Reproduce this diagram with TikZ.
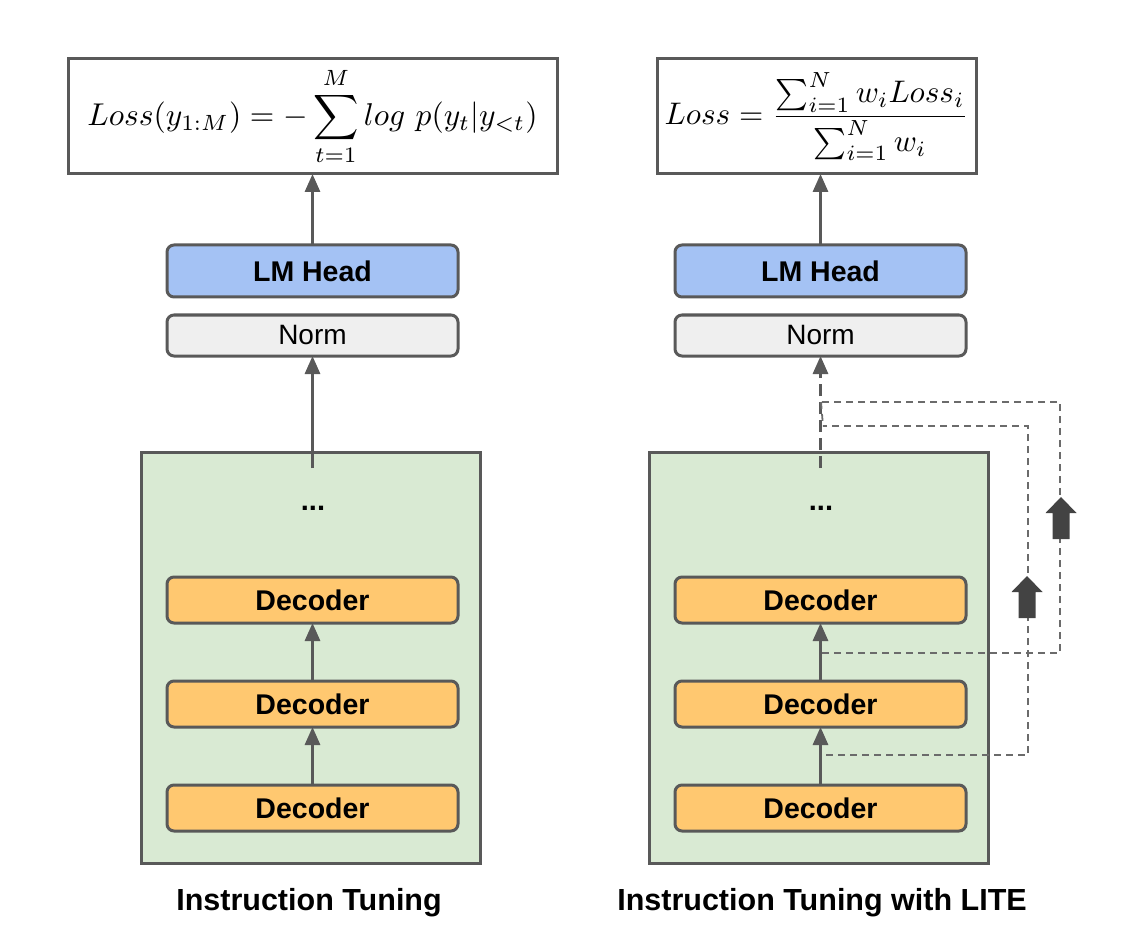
\documentclass[tikz,border=0pt]{standalone}
\usepackage{amsmath}
\usepackage{graphicx}
\usepackage{fontspec}
\newfontfamily\arialf{Liberation Sans}
\usetikzlibrary{arrows.meta}
\definecolor{edge}{HTML}{595959}
\definecolor{headblue}{HTML}{A4C2F4}
\definecolor{normgray}{HTML}{EFEFEF}
\definecolor{decorange}{HTML}{FFC870}
\definecolor{stackgreen}{HTML}{D9EAD3}
\definecolor{blockdark}{HTML}{434343}
\definecolor{dashgray}{HTML}{6B6B6B}
\tikzset{
  boxbase/.style={draw=edge, line width=3pt, inner sep=0pt, outer sep=0pt},
  formulabox/.style={boxbase, fill=white, minimum height=115pt},
  headbox/.style={boxbase, rounded corners=7pt, fill=headblue, minimum width=291pt, minimum height=52pt, font=\arialf\bfseries\fontsize{28.5}{32}\selectfont},
  normbox/.style={boxbase, rounded corners=7pt, fill=normgray, minimum width=291pt, minimum height=41pt, font=\arialf\fontsize{28}{32}\selectfont},
  decbox/.style={boxbase, rounded corners=7pt, fill=decorange, minimum width=291pt, minimum height=46pt, font=\arialf\bfseries\fontsize{28.5}{32}\selectfont},
  stackbox/.style={boxbase, fill=stackgreen, minimum width=339pt, minimum height=411pt},
  flow/.style={draw=edge, line width=3pt, -{Triangle[width=15pt,length=18pt]}},
  flowdash/.style={flow, dash pattern=on 12pt off 6pt},
  feedback/.style={draw=dashgray, line width=1.8pt, dash pattern=on 7pt off 5pt},
  blockarrow/.style={fill=blockdark, draw=none},
  caption/.style={font=\arialf\bfseries\fontsize{30.5}{34}\selectfont, inner sep=0pt},
  dots/.style={font=\arialf\bfseries\fontsize{29}{32}\selectfont, inner sep=0pt}
}
\begin{document}
\begin{tikzpicture}[x=1pt,y=-1pt]
\useasboundingbox (0,0) rectangle (1143,933);
% ---------- Left column ----------
\node[formulabox, minimum width=489pt] (lform) at (312.5,116.5)
  {\scalebox{3.15}{$\displaystyle Loss(y_{1:M}) = -\sum_{t=1}^{M} log\ p(y_t|y_{<t})$}};
\node[headbox] (lhead) at (312.5,271) {LM Head};
\node[normbox] (lnorm) at (312.5,335.5) {Norm};
\node[stackbox] (lstack) at (310.5,657.5) {};
\node[dots] (ldots) at (313,508) {...};
\node[decbox] (ldec3) at (312.5,600) {Decoder};
\node[decbox] (ldec2) at (312.5,704) {Decoder};
\node[decbox] (ldec1) at (312.5,808) {Decoder};
\coordinate (lout) at (312.5,468);
\draw[flow] (lhead.north) -- (lform.south);
\draw[flow] (lout) -- (lnorm.south);
\draw[flow] (ldec2.north) -- (ldec3.south);
\draw[flow] (ldec1.north) -- (ldec2.south);
\node[caption] (lcap) at (309,903) {Instruction Tuning};
% ---------- Right column ----------
\node[formulabox, minimum width=319pt] (rform) at (816.5,116.5)
  {\scalebox{3.12}{$\displaystyle Loss = \frac{\sum_{i=1}^{N} w_i Loss_i}{\sum_{i=1}^{N} w_i}$}};
\node[headbox] (rhead) at (820.5,271) {LM Head};
\node[normbox] (rnorm) at (820.5,335.5) {Norm};
\node[stackbox] (rstack) at (818.5,657.5) {};
\node[dots] (rdots) at (821,508) {...};
\node[decbox] (rdec3) at (820.5,600) {Decoder};
\node[decbox] (rdec2) at (820.5,704) {Decoder};
\node[decbox] (rdec1) at (820.5,808) {Decoder};
\coordinate (rout) at (820.5,468);
\draw[flow] (rhead.north) -- (rhead.north |- rform.south);
\draw[flowdash] (rout) -- (rnorm.south);
\draw[flow] (rdec2.north) -- (rdec3.south);
\draw[flow] (rdec1.north) -- (rdec2.south);
% feedback (early exit) paths
\coordinate (tapA) at (822,653);
\coordinate (tapB) at (826,755);
\coordinate (joinA) at (821,402);
\coordinate (joinB) at (823,426);
\draw[feedback] (tapA) -- (1060,653) -- (1060,402) -- (joinA);
\draw[feedback] (tapB) -- (1028,755) -- (1028,426) -- (joinB);
\draw[feedback] (joinA) -- (joinB);
% block arrows
\path[blockarrow] (1061,497) -- (1076.5,513) -- (1069.5,513) -- (1069.5,539) -- (1052.5,539) -- (1052.5,513) -- (1045.5,513) -- cycle;
\path[blockarrow] (1027,576) -- (1042.5,592) -- (1035.5,592) -- (1035.5,618) -- (1018.5,618) -- (1018.5,592) -- (1011.5,592) -- cycle;
\node[caption] (rcap) at (822,903) {Instruction Tuning with LITE};
\end{tikzpicture}
\end{document}
